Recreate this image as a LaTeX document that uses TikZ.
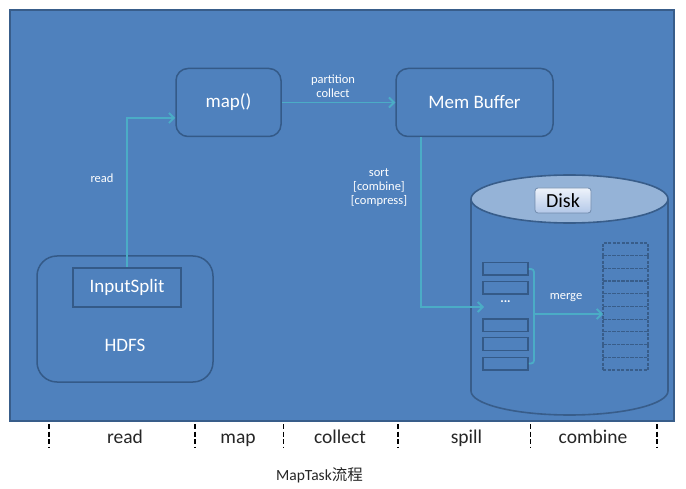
\documentclass[tikz,border=0pt]{standalone}
\usepackage{fontspec}
\setmainfont{Carlito}
\newfontfamily\cjk{Noto Sans CJK SC}
\usetikzlibrary{arrows.meta}
\definecolor{bgblue}{HTML}{4F81BD}
\definecolor{edgeblue}{HTML}{385D8A}
\definecolor{boxedge}{HTML}{345A88}
\definecolor{flow}{HTML}{4BACC6}
\definecolor{disktop}{HTML}{95B3D7}
\definecolor{lbltop}{HTML}{EEF3FB}
\definecolor{lblbot}{HTML}{B3C8E8}
\tikzset{
  procbox/.style={draw=boxedge, line width=1.5pt, rounded corners=12pt, fill=bgblue, text=white, font=\fontsize{19}{22}\selectfont},
  plainbox/.style={draw=boxedge, line width=1.8pt, text=white, font=\fontsize{19}{22}\selectfont},
  flowline/.style={draw=flow, line width=1.8pt, -{Straight Barb[length=5pt,width=10pt]}},
  flowplain/.style={draw=flow, line width=1.8pt},
  smalllbl/.style={text=white, font=\fontsize{12.5}{15}\selectfont, align=center, inner sep=0pt},
  bigwhite/.style={text=white, font=\fontsize{19}{22}\selectfont, inner sep=0pt},
  phaselbl/.style={text=black!85, font=\fontsize{19.5}{22}\selectfont, inner sep=0pt, anchor=base},
  phasesep/.style={draw=black, line width=1.6pt, dash pattern=on 5pt off 2.5pt},
  slot/.style={draw=boxedge, line width=1.5pt, minimum width=45pt, minimum height=12.5pt, inner sep=0pt},
  dslot/.style={draw=edgeblue, line width=1.2pt, dash pattern=on 3pt off 1.5pt, minimum width=45pt, minimum height=12.7pt, inner sep=0pt}
}
\begin{document}
\begin{tikzpicture}[x=1pt,y=-1pt]
\useasboundingbox (0,0) rectangle (686,489);
\fill[white] (0,0) rectangle (686,489);
% background panel
\draw[fill=bgblue, draw=edgeblue, line width=1.5pt] (10,10) rectangle (674,421);

% processing boxes
\node[procbox, minimum width=105pt, minimum height=68pt] (map) at (228.5,102.5) {map()};
\node[procbox, minimum width=157pt, minimum height=68pt] (mem) at (474.5,102.5) {Mem Buffer};
\node[procbox, rounded corners=20pt, minimum width=176pt, minimum height=126pt] (hdfs) at (125,319) {};
\node[plainbox, minimum width=108pt, minimum height=39pt, inner sep=0pt] (split) at (127,287.5) {InputSplit};
\node[bigwhite] (hdfslbl) at (125,345) {HDFS};

% read connector
\coordinate (readturn) at (127,118);
\draw[flowline] (split.north) -- (readturn) -- (map.west |- readturn);
\node[smalllbl] (readlbl) at (102,178) {read};

% partition / collect connector
\draw[flowline] (map.east) -- (mem.west);
\node[smalllbl] (pclbl) at (333,86) {partition\\[-1.5pt]collect};

% disk cylinder
\fill[bgblue] (471,199) rectangle (668,391);
\fill[bgblue] (569.5,391) ellipse [x radius=98.5, y radius=24];
\begin{scope}
  \clip (460,391) rectangle (680,420);
  \draw[edgeblue, line width=1.6pt] (569.5,391) ellipse [x radius=98.5, y radius=24];
\end{scope}
\draw[edgeblue, line width=1.6pt] (471,199) -- (471,391);
\draw[edgeblue, line width=1.6pt] (668,199) -- (668,391);
\draw[edgeblue, line width=1.6pt, fill=disktop] (569.5,199) ellipse [x radius=98.5, y radius=24];
\node[draw=boxedge!70!white, line width=0.8pt, rounded corners=3pt, top color=lbltop, bottom color=lblbot,
      minimum width=56pt, minimum height=25pt, inner sep=0pt, text=black, font=\fontsize{20}{22}\selectfont] (disk) at (563,200.5) {Disk};

% spill slots
\node[slot] (s1) at (505.5,269) {};
\node[slot] (s2) at (505.5,288) {};
\node[bigwhite, font=\bfseries\fontsize{13}{16}\selectfont] (dots) at (505.5,302) {...};
\node[slot] (s3) at (505.5,325.5) {};
\node[slot] (s4) at (505.5,344) {};
\node[slot] (s5) at (505.5,363.5) {};

% sort / spill connector
\coordinate (spillturn) at (421,307);
\draw[flowline] (mem.south -| spillturn) -- (spillturn) -- (484,307);
\node[smalllbl] (sortlbl) at (379,187.5) {sort\\[-1pt][combine]\\[-1pt][compress]};

% merged file (dashed stack)
\foreach \i in {0,...,9} {
  \node[dslot] (m\i) at (625.5,{249.35+12.7*\i}) {};
}
\coordinate (mergein) at (603,314);

% merge brace + connector
\draw[flowplain, rounded corners=3pt] (s1.east) -| (534,314) |- (s5.east);
\draw[flowline] (534,314) -- (mergein);
\node[smalllbl] (mergelbl) at (566,297.5) {merge};

% phase separators
\foreach \x in {49,195,283.5,398,530.5,657} {
  \draw[phasesep] (\x,424) -- (\x,447);
}
\node[phaselbl] (p1) at (125,443) {read};
\node[phaselbl] (p2) at (238,443) {map};
\node[phaselbl] (p3) at (340,443) {collect};
\node[phaselbl] (p4) at (466.5,443) {spill};
\node[phaselbl] (p5) at (593,443) {combine};

% title
\node[text=black!85, font=\fontsize{15.5}{18}\selectfont, inner sep=0pt] (title) at (319.5,475) {MapTask{\cjk 流程}};
\end{tikzpicture}
\end{document}
